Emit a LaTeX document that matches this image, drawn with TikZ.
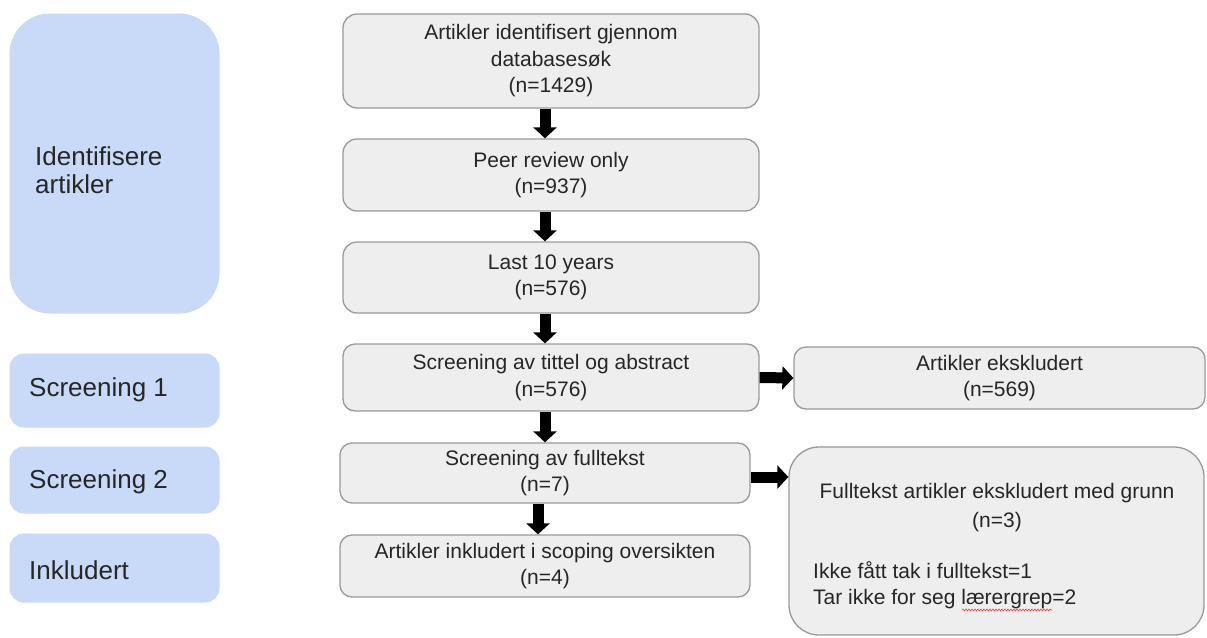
\documentclass[tikz,border=0pt]{standalone}
\usepackage{fontspec}
\setmainfont{Liberation Sans}
\usetikzlibrary{arrows.meta,decorations.pathmorphing}
\definecolor{boxgrey}{HTML}{EEEEEE}
\definecolor{edgegrey}{HTML}{9A9A9A}
\definecolor{phase}{HTML}{C9DAF8}
\definecolor{txt}{HTML}{262626}
\begin{document}
\begin{tikzpicture}[x=1pt,y=-1pt,
  gbox/.style={draw=edgegrey, fill=boxgrey, line width=1.3pt, rounded corners=14pt,
    inner sep=0pt, align=center, font=\fontsize{21}{26.5}\selectfont, text=txt},
  pbox/.style={fill=phase, draw=phase, line width=1pt, inner sep=0pt, minimum width=209pt,
    rounded corners=14pt},
  ptext/.style={anchor=west, inner sep=0pt, align=left, text=txt,
    font=\fontsize{26}{28}\selectfont},
  rtext/.style={inner sep=0pt, text=txt},
  arr/.style={line width=11pt, black, -{Triangle[width=23pt,length=11pt]}}
]
\useasboundingbox (0,0) rectangle (1207,637);
\fill[white] (0,0) rectangle (1207,637);

% phase boxes
\node[pbox, minimum height=299pt, rounded corners=40pt] (p1) at (114.5,163.5) {};
\node[pbox, minimum height=73pt] (p2) at (114.5,390.5) {};
\node[pbox, minimum height=66pt] (p3) at (114.5,480) {};
\node[pbox, minimum height=68pt] (p4) at (114.5,568) {};
\node[ptext] (t1) at (35,170) {Identifisere\\artikler};
\node[ptext] (t2) at (29,390) {Screening 1};
\node[ptext] (t3) at (29,482) {Screening 2};
\node[ptext] (t4) at (29,570) {Inkludert};

% flow boxes
\node[gbox, minimum width=416pt, minimum height=94pt] (b1) at (551,61)
  {Artikler identifisert gjennom\\databasesøk\\(n=1429)};
\node[gbox, minimum width=416pt, minimum height=72pt] (b2) at (551,175)
  {Peer review only\\(n=937)};
\node[gbox, minimum width=416pt, minimum height=71pt] (b3) at (551,277.5)
  {Last 10 years\\(n=576)};
\node[gbox, minimum width=416pt, minimum height=67pt, rounded corners=12pt] (b4) at (551,377.5)
  {Screening av tittel og abstract\\(n=576)};
\node[gbox, minimum width=410pt, minimum height=60pt, rounded corners=12pt] (b5) at (545,473)
  {Screening av fulltekst\\(n=7)};
\node[gbox, minimum width=410pt, minimum height=62pt, rounded corners=12pt] (b6) at (545,566)
  {Artikler inkludert i scoping oversikten\\(n=4)};
\node[gbox, minimum width=411pt, minimum height=62pt, rounded corners=12pt] (r1) at (999.5,378)
  {Artikler ekskludert\\(n=569)};
\node[gbox, minimum width=415pt, minimum height=188pt, rounded corners=30pt] (r2) at (996.5,541) {};
\node[rtext, align=center, font=\fontsize{21}{29}\selectfont] (r2a) at (997,507.5)
  {Fulltekst artikler ekskludert med grunn\\(n=3)};
\node[rtext, anchor=west, align=left, font=\fontsize{21}{26}\selectfont] (r2b) at (813,585)
  {Ikke fått tak i fulltekst=1\\Tar ikke for seg lærergrep=2};
\draw[red!80!white, line width=0.6pt, decorate,
  decoration={snake, amplitude=0.9pt, segment length=3pt}] (962,610) -- (1052,610);

% arrows
\coordinate (ax) at (545,0);
\coordinate (bx) at (538,0);
\coordinate (ry) at (0,477);
\draw[arr] (b1.south -| ax) -- (b2.north -| ax);
\draw[arr] (b2.south -| ax) -- (b3.north -| ax);
\draw[arr] (b3.south -| ax) -- (b4.north -| ax);
\draw[arr] (b4.south -| ax) -- (b5.north -| ax);
\draw[arr] (b5.south -| bx) -- (b6.north -| bx);
\draw[arr] (b4.east) -- (r1.west);
\draw[arr] (b5.east |- ry) -- (r2.west |- ry);
\end{tikzpicture}
\end{document}
